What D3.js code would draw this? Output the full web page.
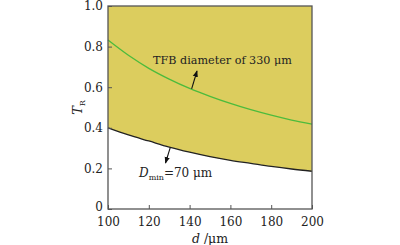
<!DOCTYPE html>
<html>
<head>
<meta charset="utf-8">
<script src="https://cdn.jsdelivr.net/npm/d3@7"></script>
<style>
  body { margin: 0; background: #fff; }
</style>
</head>
<body>
<svg id="chart" width="400" height="245"></svg>
<script>
// d values (um) and read-off T_R for the two curves
const dVals = [100, 110, 120, 130, 140, 150, 160, 170, 180, 190, 200];
const tfbCurve = [0.832, 0.757, 0.693, 0.640, 0.594, 0.555, 0.520, 0.489, 0.462, 0.438, 0.418];
const dminCurve = [0.400, 0.365, 0.335, 0.305, 0.280, 0.258, 0.240, 0.225, 0.210, 0.197, 0.186];
const xTicks = [100, 120, 140, 160, 180, 200];
const yTicks = [0, 0.2, 0.4, 0.6, 0.8, 1.0];

const serif = "DejaVu Serif";
const svg = d3.select("#chart").style("font-family", serif);
const margin = { top: 6, right: 88, bottom: 36, left: 108 };
const width = 400, height = 245;

const x = d3.scaleLinear().domain([100, 200]).range([margin.left, width - margin.right]);
const y = d3.scaleLinear().domain([0, 1]).range([height - margin.bottom, margin.top]);

const pts = dVals.map((d, i) => ({ d, top: tfbCurve[i], low: dminCurve[i] }));

// arrowhead
svg.append("defs").append("marker")
  .attr("id", "arr")
  .attr("viewBox", "0 0 10 10")
  .attr("refX", 9).attr("refY", 5)
  .attr("markerWidth", 6).attr("markerHeight", 6)
  .attr("orient", "auto")
  .append("path")
  .attr("d", "M0,1 L10,5 L0,9 z")
  .attr("fill", "#111");

// shaded region above D_min curve
svg.append("path")
  .datum(pts)
  .attr("fill", "#dccd5e")
  .attr("d", d3.area()
    .x(p => x(p.d))
    .y0(p => y(p.low))
    .y1(y(1))
    .curve(d3.curveMonotoneX));

svg.append("path")
  .datum(pts)
  .attr("fill", "none")
  .attr("stroke", "#222")
  .attr("stroke-width", 1.3)
  .attr("d", d3.line().x(p => x(p.d)).y(p => y(p.low)).curve(d3.curveMonotoneX));

svg.append("path")
  .datum(pts)
  .attr("fill", "none")
  .attr("stroke", "#4cbb3c")
  .attr("stroke-width", 1.3)
  .attr("d", d3.line().x(p => x(p.d)).y(p => y(p.top)).curve(d3.curveMonotoneX));

// axes
const xAxis = svg.append("g")
  .attr("transform", `translate(0,${y(0)})`)
  .call(d3.axisBottom(x).tickValues(xTicks).tickSize(-4).tickPadding(8).tickFormat(d3.format("d")));
const yAxis = svg.append("g")
  .attr("transform", `translate(${x(100)},0)`)
  .call(d3.axisLeft(y).tickValues(yTicks).tickSize(-4).tickPadding(5)
    .tickFormat(v => v === 0 ? "0" : d3.format(".1f")(v)));

[xAxis, yAxis].forEach(g => {
  g.attr("font-family", serif).attr("font-size", 12);
  g.select(".domain").remove();
  g.selectAll("line").attr("stroke", "#555");
  g.selectAll("text").attr("fill", "#222");
});
// lift the "0" a little so it clears the "100" below it
yAxis.selectAll(".tick text").filter(v => v === 0).attr("dy", "0.1em");

// frame
svg.append("rect")
  .attr("x", x(100)).attr("y", y(1))
  .attr("width", x(200) - x(100)).attr("height", y(0) - y(1))
  .attr("fill", "none").attr("stroke", "#555").attr("stroke-width", 1.3);

// axis titles
const xl = svg.append("text")
  .attr("x", x(150)).attr("y", 243)
  .attr("text-anchor", "middle").attr("font-size", 12.5).attr("fill", "#222");
xl.append("tspan").attr("font-style", "italic").text("d");
xl.append("tspan").text(" /μm");

const yl = svg.append("text")
  .attr("transform", `translate(82,${y(0.5)}) rotate(-90)`)
  .attr("text-anchor", "middle").attr("font-size", 13).attr("fill", "#222");
yl.append("tspan").attr("font-style", "italic").text("T");
yl.append("tspan").attr("font-size", 8).attr("dy", 3).text("R");

// annotations
svg.append("text")
  .attr("x", 153).attr("y", 64)
  .attr("font-size", 11.2).attr("fill", "#222")
  .text("TFB diameter of 330 μm");
svg.append("line")
  .attr("x1", x(141)).attr("y1", y(0.592))
  .attr("x2", 197).attr("y2", 71)
  .attr("stroke", "#111").attr("stroke-width", 1.1)
  .attr("marker-end", "url(#arr)");

const dl = svg.append("text")
  .attr("x", 139).attr("y", 177)
  .attr("font-size", 12).attr("fill", "#222");
dl.append("tspan").attr("font-style", "italic").text("D");
dl.append("tspan").attr("font-size", 8).attr("dy", 3).text("min");
dl.append("tspan").attr("dy", -3).text("=70 μm");
svg.append("line")
  .attr("x1", x(130.5)).attr("y1", y(0.302))
  .attr("x2", 165.5).attr("y2", 163)
  .attr("stroke", "#111").attr("stroke-width", 1.1)
  .attr("marker-end", "url(#arr)");
</script>
</body>
</html>
